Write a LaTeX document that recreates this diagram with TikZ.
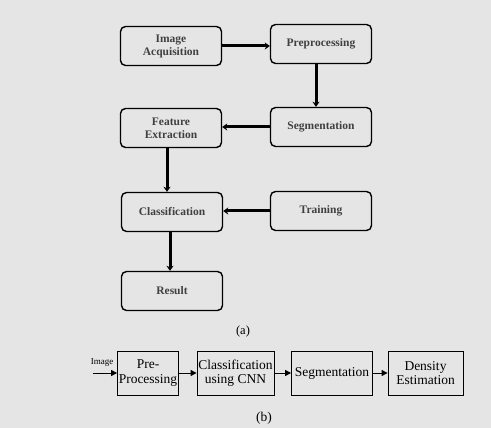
\documentclass[tikz,border=0pt]{standalone}
\usepackage{fontspec}
\setmainfont{Liberation Serif}
\usepackage{xcolor}
\usetikzlibrary{positioning,arrows.meta}
\definecolor{bggray}{HTML}{E5E5E5}

\tikzset{
    stagebox/.style={draw,rounded corners=5pt,line width=1.4pt,fill=bggray,
        minimum width=101pt,minimum height=39pt,align=center,
        font=\fontsize{11.5}{13}\selectfont\bfseries,text=black!75},
    flowbox/.style={draw,line width=0.8pt,fill=bggray,minimum height=44pt,
        align=center,inner sep=1pt,font=\fontsize{13.5}{14.5}\selectfont},
    bigarrow/.style={line width=3pt,-{Stealth[length=5pt,width=7pt]}},
    smallarrow/.style={line width=1pt,-{Triangle[length=6pt,width=6pt]}}
}

\begin{document}
\begin{tikzpicture}[x=1pt,y=-1pt]
    \fill[bggray] (0,0) rectangle (491,428);
    \useasboundingbox (0,0) rectangle (491,428);

    % (a) pipeline
    \node[stagebox] (acq) at (171,46) {Image\\Acquisition};
    \node[stagebox] (prep) at (321,44) {Preprocessing};
    \node[stagebox] (seg) at (321,127) {Segmentation};
    \node[stagebox] (feat) at (171,128) {Feature\\Extraction};
    \node[stagebox] (cls) at (172,212) {Classification};
    \node[stagebox] (train) at (321,211) {Training};
    \node[stagebox] (res) at (172,291) {Result};
    \node[font=\fontsize{12.5}{13}\selectfont] (capa) at (243,331) {(a)};

    \draw[bigarrow] (acq.east) -- (prep.west |- acq.east);
    \draw[bigarrow] ([xshift=-5pt]prep.south) -- ([xshift=-5pt]seg.north);
    \draw[bigarrow] (seg.west) -- (feat.east |- seg.west);
    \draw[bigarrow] ([xshift=-4pt]feat.south) -- ([xshift=-5pt]cls.north);
    \draw[bigarrow] (train.west) -- (cls.east |- train.west);
    \draw[bigarrow] ([xshift=-2pt]cls.south) -- ([xshift=-2pt]res.north);

    % (b) pipeline
    \node[flowbox,minimum width=61pt] (pre) at (148,373) {Pre-\\Processing};
    \node[flowbox,minimum width=77pt] (cnn) at (235.5,373) {Classification\\using CNN};
    \node[flowbox,minimum width=81pt] (bseg) at (332,373) {Segmentation};
    \node[flowbox,minimum width=75pt] (dens) at (425.5,373) {Density\\Estimation};
    \node[font=\fontsize{9}{10}\selectfont] (img) at (102,363) {Image};
    \coordinate (imgin) at (93,373);
    \node[font=\fontsize{13.5}{14}\selectfont] (capb) at (264,418) {(b)};

    \draw[smallarrow] (imgin) -- (pre.west);
    \draw[smallarrow] (pre) -- (cnn);
    \draw[smallarrow] (cnn) -- (bseg);
    \draw[smallarrow] (bseg) -- (dens);
\end{tikzpicture}
\end{document}
